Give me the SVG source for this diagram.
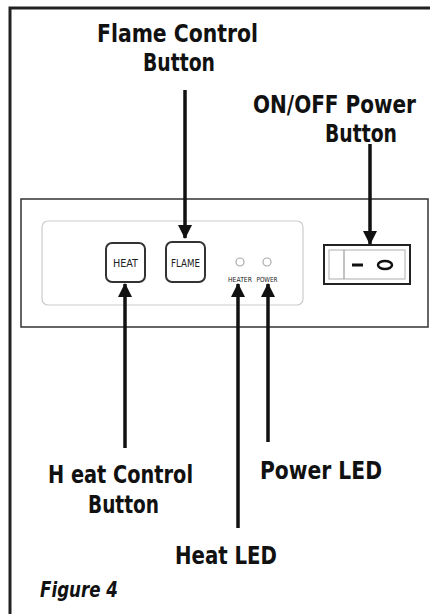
<svg xmlns="http://www.w3.org/2000/svg" width="430" height="614" viewBox="0 0 430 614">
<style>
.lbl{font-family:"Liberation Sans Narrow","DejaVu Sans Condensed","Liberation Sans",sans-serif;font-weight:bold;font-size:25px;fill:#111;}
.small{font-family:"Liberation Sans Narrow","DejaVu Sans Condensed","Liberation Sans",sans-serif;fill:#222;}
.conn line{stroke:#111;stroke-width:3.5;marker-end:url(#ah);}
</style>
<defs>
<marker id="ah" markerUnits="userSpaceOnUse" markerWidth="14" markerHeight="15" refX="13" refY="7" orient="auto" viewBox="0 0 14 14">
<path d="M0,0 L14,7 L0,14 z" fill="#111"/>
</marker>
</defs>
<rect width="430" height="614" fill="#fff"/>
<g id="frame">
<path d="M10,614 V8 H430" fill="none" stroke="#222" stroke-width="3"/>
</g>
<g id="panel">
<rect x="21" y="199" width="407" height="128" fill="none" stroke="#333" stroke-width="1.5"/>
<rect x="42" y="221" width="261" height="84" rx="6" fill="none" stroke="#ccc" stroke-width="1.2"/>
</g>
<g id="heat-button">
<rect x="106" y="243" width="39" height="39" rx="6" fill="#fff" stroke="#333" stroke-width="2"/>
<text class="small" x="125.5" y="267" font-size="11" text-anchor="middle" textLength="25" lengthAdjust="spacingAndGlyphs">HEAT</text>
</g>
<g id="flame-button">
<rect x="166" y="242" width="39" height="40" rx="6" fill="#fff" stroke="#333" stroke-width="2"/>
<text class="small" x="185.5" y="267" font-size="11" text-anchor="middle" textLength="29" lengthAdjust="spacingAndGlyphs">FLAME</text>
</g>
<g id="heater-led">
<circle cx="240" cy="262" r="4" fill="#fff" stroke="#aaa" stroke-width="1.2"/>
<text class="small" x="240" y="282" font-size="7" text-anchor="middle" textLength="24" lengthAdjust="spacingAndGlyphs">HEATER</text>
</g>
<g id="power-led">
<circle cx="267" cy="262" r="4" fill="#fff" stroke="#aaa" stroke-width="1.2"/>
<text class="small" x="267" y="282" font-size="7" text-anchor="middle" textLength="21" lengthAdjust="spacingAndGlyphs">POWER</text>
</g>
<g id="power-switch">
<rect x="324" y="245" width="86" height="39" fill="#fff" stroke="#222" stroke-width="2"/>
<rect x="329" y="250" width="76" height="29" fill="none" stroke="#bbb" stroke-width="1.2"/>
<line x1="344" y1="250" x2="344" y2="279" stroke="#999" stroke-width="1.2"/>
<line x1="352" y1="265" x2="363" y2="265" stroke="#111" stroke-width="3"/>
<ellipse cx="385" cy="265" rx="7" ry="4" fill="none" stroke="#111" stroke-width="2.5"/>
</g>
<g id="connectors" class="conn">
<line x1="185" y1="90" x2="185" y2="238"/>
<line x1="370" y1="144" x2="370" y2="244"/>
<line x1="125" y1="448" x2="125" y2="284"/>
<line x1="238" y1="528" x2="238" y2="284"/>
<line x1="268" y1="442" x2="268" y2="284"/>
</g>
<g id="label-flame">
<text class="lbl" x="97" y="42" textLength="161" lengthAdjust="spacingAndGlyphs">Flame Control</text>
<text class="lbl" x="143" y="71" textLength="72" lengthAdjust="spacingAndGlyphs">Button</text>
</g>
<g id="label-onoff">
<text class="lbl" x="253" y="113" style="font-size:24px" textLength="163" lengthAdjust="spacingAndGlyphs">ON/OFF Power</text>
<text class="lbl" x="325" y="142" textLength="72" lengthAdjust="spacingAndGlyphs">Button</text>
</g>
<g id="label-heat">
<text class="lbl" x="48" y="483" textLength="145" lengthAdjust="spacingAndGlyphs">H eat Control</text>
<text class="lbl" x="88" y="513" textLength="71" lengthAdjust="spacingAndGlyphs">Button</text>
</g>
<g id="label-powerled">
<text class="lbl" x="260" y="479" textLength="122" lengthAdjust="spacingAndGlyphs">Power LED</text>
</g>
<g id="label-heatled">
<text class="lbl" x="175" y="564" textLength="102" lengthAdjust="spacingAndGlyphs">Heat LED</text>
</g>
<g id="caption">
<text class="lbl" x="40" y="597" font-style="italic" style="font-size:21px" textLength="78" lengthAdjust="spacingAndGlyphs">Figure 4</text>
</g>
</svg>
